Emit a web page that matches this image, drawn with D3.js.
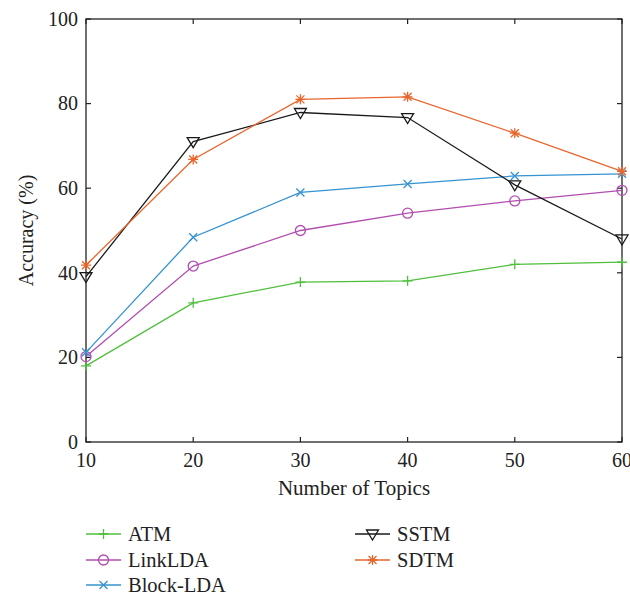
<!DOCTYPE html>
<html>
<head>
<meta charset="utf-8">
<script src="https://cdn.jsdelivr.net/npm/d3@7"></script>
<style>
  html, body { margin: 0; padding: 0; background: #fff; }
  svg { display: block; }
  text { font-family: "Liberation Serif", "DejaVu Serif", serif; fill: #222; }
</style>
</head>
<body>
<svg id="chart" width="630" height="594"></svg>
<script>
// ---- data ----
const topics = [10, 20, 30, 40, 50, 60];
const atm      = [18.0, 32.9, 37.8, 38.1, 42.0, 42.5];
const linkLDA  = [20.2, 41.6, 50.0, 54.1, 57.0, 59.5];
const blockLDA = [21.2, 48.4, 59.0, 61.0, 62.9, 63.4];
const sstm     = [39.1, 71.0, 77.9, 76.7, 60.8, 48.0];
const sdtm     = [41.8, 66.8, 81.0, 81.6, 73.0, 64.0];
const seriesNames = ["ATM", "LinkLDA", "Block-LDA", "SSTM", "SDTM"];
const yTicks = [0, 20, 40, 60, 80, 100];
const xTicks = [10, 20, 30, 40, 50, 60];

const series = [
  { name: seriesNames[0], values: atm,      color: "#4fbf3c", marker: "plus" },
  { name: seriesNames[1], values: linkLDA,  color: "#b24daf", marker: "circle" },
  { name: seriesNames[2], values: blockLDA, color: "#3593d1", marker: "cross" },
  { name: seriesNames[3], values: sstm,     color: "#1a1a1a", marker: "triangle" },
  { name: seriesNames[4], values: sdtm,     color: "#e8662c", marker: "star" }
];

const svg = d3.select("#chart");
const m = { left: 86, top: 19, right: 622, bottom: 442 };

const x = d3.scaleLinear().domain([10, 60]).range([m.left, m.right]);
const y = d3.scaleLinear().domain([0, 100]).range([m.bottom, m.top]);

// frame
svg.append("rect")
  .attr("x", m.left).attr("y", m.top)
  .attr("width", m.right - m.left).attr("height", m.bottom - m.top)
  .attr("fill", "none").attr("stroke", "#222").attr("stroke-width", 1.3);

const tl = 5;
xTicks.forEach(t => {
  svg.append("line").attr("x1", x(t)).attr("x2", x(t)).attr("y1", m.bottom).attr("y2", m.bottom - tl)
    .attr("stroke", "#222").attr("stroke-width", 1.2);
  svg.append("line").attr("x1", x(t)).attr("x2", x(t)).attr("y1", m.top).attr("y2", m.top + tl)
    .attr("stroke", "#222").attr("stroke-width", 1.2);
  svg.append("text").attr("x", x(t)).attr("y", 467).attr("text-anchor", "middle")
    .style("font-size", "20px").text(t);
});
yTicks.forEach(t => {
  svg.append("line").attr("x1", m.left).attr("x2", m.left + tl).attr("y1", y(t)).attr("y2", y(t))
    .attr("stroke", "#222").attr("stroke-width", 1.2);
  svg.append("line").attr("x1", m.right).attr("x2", m.right - tl).attr("y1", y(t)).attr("y2", y(t))
    .attr("stroke", "#222").attr("stroke-width", 1.2);
  svg.append("text").attr("x", 78).attr("y", y(t)).attr("dy", "0.34em").attr("text-anchor", "end")
    .style("font-size", "20px").text(t);
});

svg.append("text").attr("x", 354).attr("y", 495).attr("text-anchor", "middle")
  .style("font-size", "21px").text("Number of Topics");
svg.append("text").attr("transform", `translate(33,${(m.top + m.bottom) / 2}) rotate(-90)`)
  .attr("text-anchor", "middle").style("font-size", "20px").text("Accuracy (%)");

function drawMarker(g, type, cx, cy, color) {
  const s = 5;
  if (type === "plus") {
    g.append("path").attr("d", `M${cx - s},${cy}H${cx + s}M${cx},${cy - s}V${cy + s}`)
      .attr("stroke", color).attr("stroke-width", 1.3).attr("fill", "none");
  } else if (type === "circle") {
    g.append("circle").attr("cx", cx).attr("cy", cy).attr("r", 5)
      .attr("stroke", color).attr("stroke-width", 1.3).attr("fill", "none");
  } else if (type === "cross") {
    const c = 4;
    g.append("path").attr("d", `M${cx - c},${cy - c}L${cx + c},${cy + c}M${cx - c},${cy + c}L${cx + c},${cy - c}`)
      .attr("stroke", color).attr("stroke-width", 1.3).attr("fill", "none");
  } else if (type === "triangle") {
    g.append("path").attr("d", `M${cx - 6},${cy - 4}L${cx + 6},${cy - 4}L${cx},${cy + 6}Z`)
      .attr("stroke", color).attr("stroke-width", 1.3).attr("fill", "none");
  } else if (type === "star") {
    const c = 4;
    g.append("path").attr("d", `M${cx - s},${cy}H${cx + s}M${cx},${cy - s}V${cy + s}M${cx - c},${cy - c}L${cx + c},${cy + c}M${cx - c},${cy + c}L${cx + c},${cy - c}`)
      .attr("stroke", color).attr("stroke-width", 1.3).attr("fill", "none");
  }
}

const line = d3.line().x((d, i) => x(topics[i])).y(d => y(d));
series.forEach(s => {
  const g = svg.append("g");
  g.append("path").datum(s.values).attr("d", line)
    .attr("fill", "none").attr("stroke", s.color).attr("stroke-width", 1.3);
  s.values.forEach((v, i) => drawMarker(g, s.marker, x(topics[i]), y(v), s.color));
});

// legend
const legendPos = [
  { x: 86, y: 534 }, { x: 86, y: 560 }, { x: 86, y: 585 },
  { x: 355, y: 534 }, { x: 355, y: 560 }
];
series.forEach((s, i) => {
  const p = legendPos[i];
  const g = svg.append("g");
  g.append("line").attr("x1", p.x).attr("x2", p.x + 35).attr("y1", p.y).attr("y2", p.y)
    .attr("stroke", s.color).attr("stroke-width", 1.3);
  drawMarker(g, s.marker, p.x + 17.5, p.y, s.color);
  g.append("text").attr("x", p.x + 42).attr("y", p.y).attr("dy", "0.34em")
    .style("font-size", "20.5px").text(s.name);
});
</script>
</body>
</html>
